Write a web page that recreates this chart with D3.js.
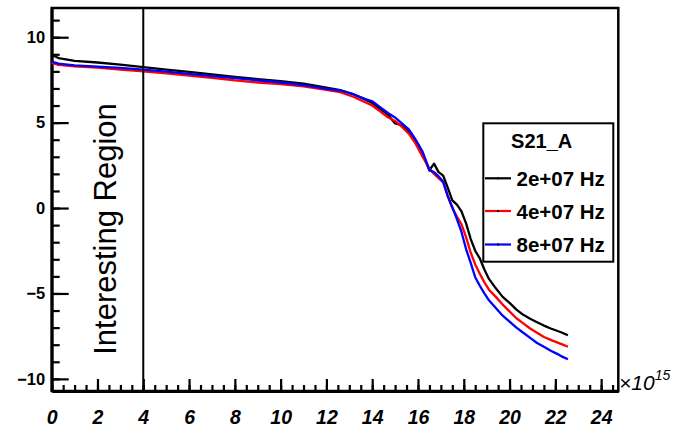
<!DOCTYPE html>
<html>
<head>
<meta charset="utf-8">
<script src="https://cdn.jsdelivr.net/npm/d3@7"></script>
<style>
  body { margin: 0; background: #fff; }
  svg { display: block; font-family: "Liberation Sans", Arial, sans-serif; }
</style>
</head>
<body>
<svg id="chart" width="678" height="429"></svg>
<script>
// x values are in units of 1e15
const xVals = [0, 0.3, 1, 2, 3, 4, 5, 6, 7, 8, 9, 10, 11, 12, 12.6, 13.2, 13.6, 14.0, 14.3, 14.7,
  15.0, 15.3, 15.6, 15.9, 16.2, 16.5, 16.7, 16.9, 17.1, 17.3, 17.5, 17.7, 17.9, 18.1, 18.3, 18.5,
  18.7, 18.9, 19.1, 19.4, 19.7, 20.0, 20.3, 20.6, 20.9, 21.2, 21.5, 21.8, 22.1, 22.3, 22.55];

const s2e7 = [8.96, 8.78, 8.62, 8.52, 8.4, 8.25, 8.1, 7.97, 7.83, 7.68, 7.55, 7.43, 7.28, 7.05, 6.9, 6.65, 6.42, 6.15, 5.85, 5.45,
  4.95, 4.85, 4.45, 3.95, 3.2, 2.2, 2.6, 2.1, 1.9, 1.2, 0.45, 0.2, -0.2, -0.9, -1.8, -2.5,
  -2.95, -3.6, -4.15, -4.7, -5.2, -5.55, -5.95, -6.25, -6.48, -6.68, -6.88, -7.05, -7.2, -7.3, -7.45];

const s4e7 = [8.5, 8.38, 8.3, 8.22, 8.1, 8.0, 7.88, 7.75, 7.62, 7.47, 7.35, 7.25, 7.12, 6.92, 6.78, 6.5, 6.25, 6.0, 5.7, 5.3,
  5.1, 4.75, 4.35, 3.75, 3.0, 2.3, 2.0, 1.75, 1.5, 0.7, 0.0, -0.5, -0.95, -1.7, -2.6, -3.3,
  -3.85, -4.35, -4.78, -5.2, -5.65, -6.05, -6.45, -6.75, -7.05, -7.3, -7.55, -7.72, -7.88, -7.98, -8.12];

const s8e7 = [8.57, 8.45, 8.35, 8.28, 8.2, 8.1, 7.98, 7.85, 7.72, 7.6, 7.48, 7.35, 7.2, 6.98, 6.88, 6.65, 6.42, 6.25, 5.95, 5.55,
  5.3, 4.95, 4.6, 4.0, 3.3, 2.22, 2.1, 1.85, 1.55, 0.7, 0.05, -0.65, -1.4, -2.4, -3.2, -4.05,
  -4.55, -5.0, -5.4, -5.85, -6.3, -6.65, -7.0, -7.3, -7.6, -7.9, -8.12, -8.35, -8.55, -8.7, -8.85];

const seriesNames = ['2e+07 Hz', '4e+07 Hz', '8e+07 Hz'];
const seriesColors = ['#000000', '#ff0000', '#0000ff'];
const xMajorTicks = d3.range(0, 25, 2);
const yMajorTicks = [-10, -5, 0, 5, 10];
const legendTitle = 'S21_A';
const regionX = 4;

const svg = d3.select('#chart');
const frame = { left: 51.7, right: 618.3, top: 8, bottom: 391 };

const x = d3.scaleLinear().domain([0, 24.75]).range([frame.left, frame.right]);
const y = d3.scaleLinear().domain([-10.71, 11.71]).range([frame.bottom, frame.top]);

const allSeries = [s2e7, s4e7, s8e7].map((vals, i) => ({
  name: seriesNames[i],
  color: seriesColors[i],
  points: vals.map((v, j) => [xVals[j], v])
}));

// frame
svg.append('rect')
  .attr('x', frame.left).attr('y', frame.top)
  .attr('width', frame.right - frame.left).attr('height', frame.bottom - frame.top)
  .attr('fill', 'none').attr('stroke', '#000').attr('stroke-width', 2.5);

// x axis: minor then major
const xMinor = svg.append('g')
  .attr('transform', `translate(0,${frame.bottom})`)
  .call(d3.axisBottom(x).tickValues(d3.range(0, 24.8, 0.5)).tickSize(-6).tickSizeOuter(0).tickFormat(''));
xMinor.select('.domain').remove();
xMinor.selectAll('.tick line').attr('stroke-width', 2.2);

const xAxisG = svg.append('g')
  .attr('transform', `translate(0,${frame.bottom})`)
  .call(d3.axisBottom(x).tickValues(xMajorTicks).tickSize(-12).tickSizeOuter(0).tickPadding(33));
xAxisG.select('.domain').attr('stroke-width', 3);
xAxisG.selectAll('.tick line').attr('stroke-width', 2.2);
xAxisG.selectAll('.tick text')
  .attr('dy', 0)
  .attr('font-size', 19.5)
  .style('font-family', '"Liberation Sans", Arial, sans-serif')
  .style('font-size', '19.5px')
  .style('font-weight', 'bold')
  .style('font-style', 'italic')
  .attr('fill', '#000');

// y axis
const yMinor = svg.append('g')
  .attr('transform', `translate(${frame.left},0)`)
  .call(d3.axisLeft(y).tickValues(d3.range(-10, 11.5, 1)).tickSize(-8).tickSizeOuter(0).tickFormat(''));
yMinor.select('.domain').remove();
yMinor.selectAll('.tick line').attr('stroke-width', 2.2);

const yAxisG = svg.append('g')
  .attr('transform', `translate(${frame.left},0)`)
  .call(d3.axisLeft(y).tickValues(yMajorTicks).tickSize(-17).tickSizeOuter(0).tickPadding(6.5));
yAxisG.select('.domain').attr('stroke-width', 3);
yAxisG.selectAll('.tick text')
  .style('font-family', '"Liberation Sans", Arial, sans-serif')
  .style('font-size', '16.5px')
  .style('font-weight', 'bold')
  .attr('fill', '#000');
yAxisG.selectAll('.tick line').attr('stroke-width', 2.2);

// exponent label
const expo = svg.append('text')
  .attr('x', 619).attr('y', 390)
  .attr('font-size', 21)
  .style('font-size', '21px')
  .style('font-style', 'italic');
expo.append('tspan').text('\u00d710');
expo.append('tspan').attr('dy', -10).attr('font-size', 14).style('font-size', '14px').text('15');

// curves
const line = d3.line().x(d => x(d[0])).y(d => y(d[1]));
svg.selectAll('.curve').data(allSeries)
  .enter().append('path')
    .attr('class', 'curve')
    .attr('d', d => line(d.points))
    .attr('fill', 'none')
    .attr('stroke', d => d.color)
    .attr('stroke-width', 2.3)
    .attr('stroke-linejoin', 'round');

// interesting region marker
svg.append('line')
  .attr('x1', x(regionX)).attr('x2', x(regionX))
  .attr('y1', frame.top).attr('y2', frame.bottom)
  .attr('stroke', '#000').attr('stroke-width', 2);

svg.append('text')
  .attr('transform', `translate(115.5,229) rotate(-90)`)
  .attr('text-anchor', 'middle')
  .style('font-size', '31px')
  .text('Interesting Region');

// legend
const lg = svg.append('g');
lg.append('rect')
  .attr('x', 483.3).attr('y', 123.3)
  .attr('width', 130).attr('height', 138.4)
  .attr('fill', '#fff').attr('stroke', '#000').attr('stroke-width', 2);
lg.append('text')
  .attr('x', 541.7).attr('y', 147.5)
  .attr('text-anchor', 'middle')
  .style('font-size', '20px').style('font-weight', 'bold')
  .text(legendTitle);

const rowY = [178.3, 211, 244.5];
const rows = lg.selectAll('.row').data(allSeries)
  .enter().append('g').attr('class', 'row')
  .attr('transform', (d, i) => `translate(0,${rowY[i]})`);
rows.append('line')
  .attr('x1', 485).attr('x2', 511)
  .attr('stroke', d => d.color).attr('stroke-width', 2.2);
rows.append('rect')
  .attr('x', 497).attr('y', -1).attr('width', 2).attr('height', 2).attr('fill', '#000');
rows.append('text')
  .attr('x', 516.5).attr('y', 7.5)
  .style('font-size', '20.5px').style('font-weight', 'bold')
  .text(d => d.name);
</script>
</body>
</html>
